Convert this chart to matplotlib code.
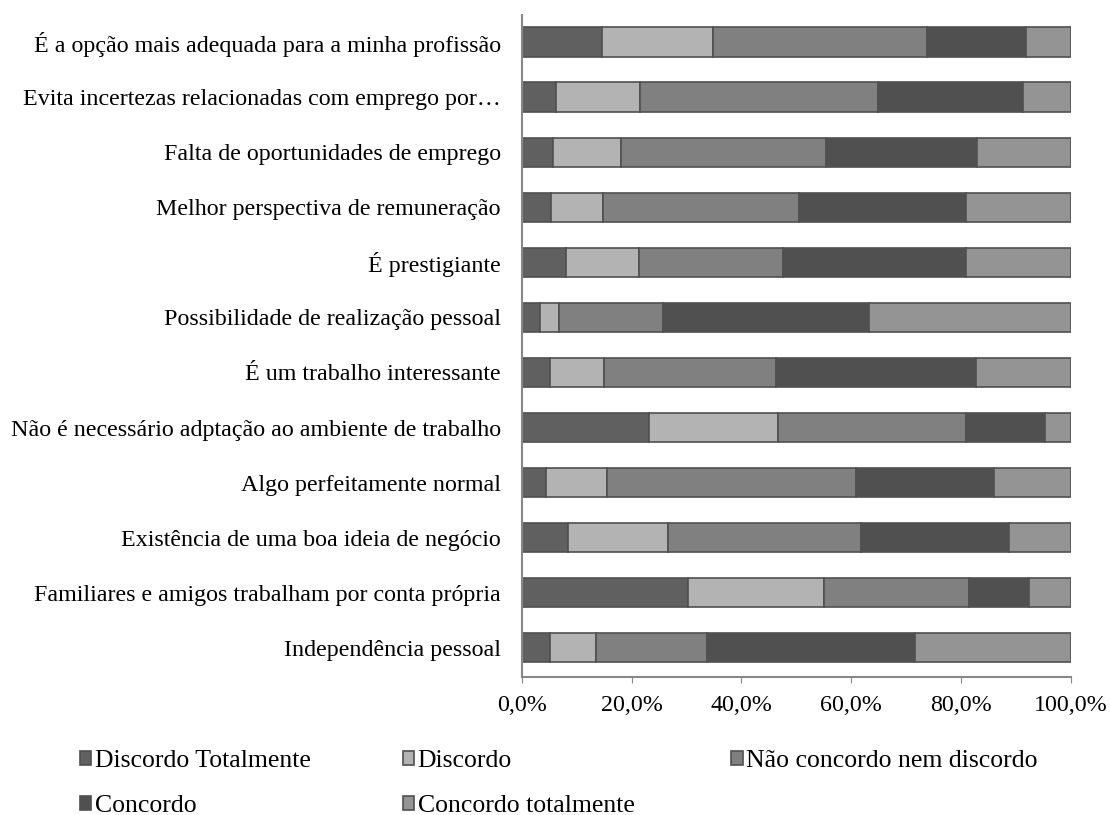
import matplotlib.pyplot as plt
import numpy as np

plt.rcParams['font.family'] = ['Liberation Serif', 'DejaVu Serif']

categorias = [
    "É a opção mais adequada para a minha profissão",
    "Evita incertezas relacionadas com emprego por…",
    "Falta de oportunidades de emprego",
    "Melhor perspectiva de remuneração",
    "É prestigiante",
    "Possibilidade de realização pessoal",
    "É um trabalho interessante",
    "Não é necessário adptação ao ambiente de trabalho",
    "Algo perfeitamente normal",
    "Existência de uma boa ideia de negócio",
    "Familiares e amigos trabalham por conta própria",
    "Independência pessoal",
]

# percentagens, de cima para baixo
discordo_totalmente = [14.6, 6.2, 5.7, 5.4, 8.1, 3.4, 5.1, 23.2, 4.5, 8.4, 30.2, 5.1]
discordo = [20.2, 15.4, 12.4, 9.4, 13.2, 3.4, 9.8, 23.5, 11.0, 18.2, 24.8, 8.5]
nem_nem = [39.0, 43.3, 37.2, 35.7, 26.3, 18.9, 31.3, 34.2, 45.3, 35.2, 26.4, 20.1]
concordo = [18.0, 26.4, 27.6, 30.4, 33.3, 37.5, 36.5, 14.3, 25.2, 26.8, 10.9, 37.8]
concordo_totalmente = [8.2, 8.7, 17.1, 19.1, 19.1, 36.8, 17.3, 4.8, 14.0, 11.4, 7.7, 28.5]

series = [
    ("Discordo Totalmente", discordo_totalmente, "#606060"),
    ("Discordo", discordo, "#b3b3b3"),
    ("Não concordo nem discordo", nem_nem, "#808080"),
    ("Concordo", concordo, "#505050"),
    ("Concordo totalmente", concordo_totalmente, "#949494"),
]

fig = plt.figure(figsize=(11.1, 8.15), dpi=100)
ax = fig.add_axes([0.470, 0.1693, 0.495, 0.8123])

y = np.arange(len(categorias))[::-1]
esquerda = np.zeros(len(categorias))
barras = {}
for nome, valores, cor in series:
    v = np.array(valores) / 100.0
    barras[nome] = ax.barh(y, v, left=esquerda, height=0.53, color=cor,
                           edgecolor="#505050", linewidth=1.2, label=nome)
    esquerda += v

ax.set_xlim(0, 1)
ax.set_ylim(-0.53, 11.49)
ax.set_yticks(y)
ax.set_yticklabels(categorias, fontsize=17.3)
ax.tick_params(axis='y', length=0, pad=15)
ax.set_xticks(np.arange(0, 1.01, 0.2))
ax.set_xticklabels(["0,0%", "20,0%", "40,0%", "60,0%", "80,0%", "100,0%"], fontsize=17.3)
ax.tick_params(axis='x', length=4, color="#888888", pad=9)
for s in ["top", "right"]:
    ax.spines[s].set_visible(False)
for s in ["left", "bottom"]:
    ax.spines[s].set_color("#888888")
    ax.spines[s].set_linewidth(1.5)

colunas = [
    (["Discordo Totalmente", "Concordo"], 0.072),
    (["Discordo", "Concordo totalmente"], 0.363),
    (["Não concordo nem discordo"], 0.659),
]
for nomes, x0 in colunas:
    fig.legend([barras[n] for n in nomes], nomes, loc="upper left",
               bbox_to_anchor=(x0, 0.080), frameon=False, fontsize=18.5,
               handlelength=0.45, handleheight=0.45, handletextpad=0.12,
               labelspacing=0.9, borderaxespad=0, borderpad=0)

fig.savefig("out.png", dpi=100)
